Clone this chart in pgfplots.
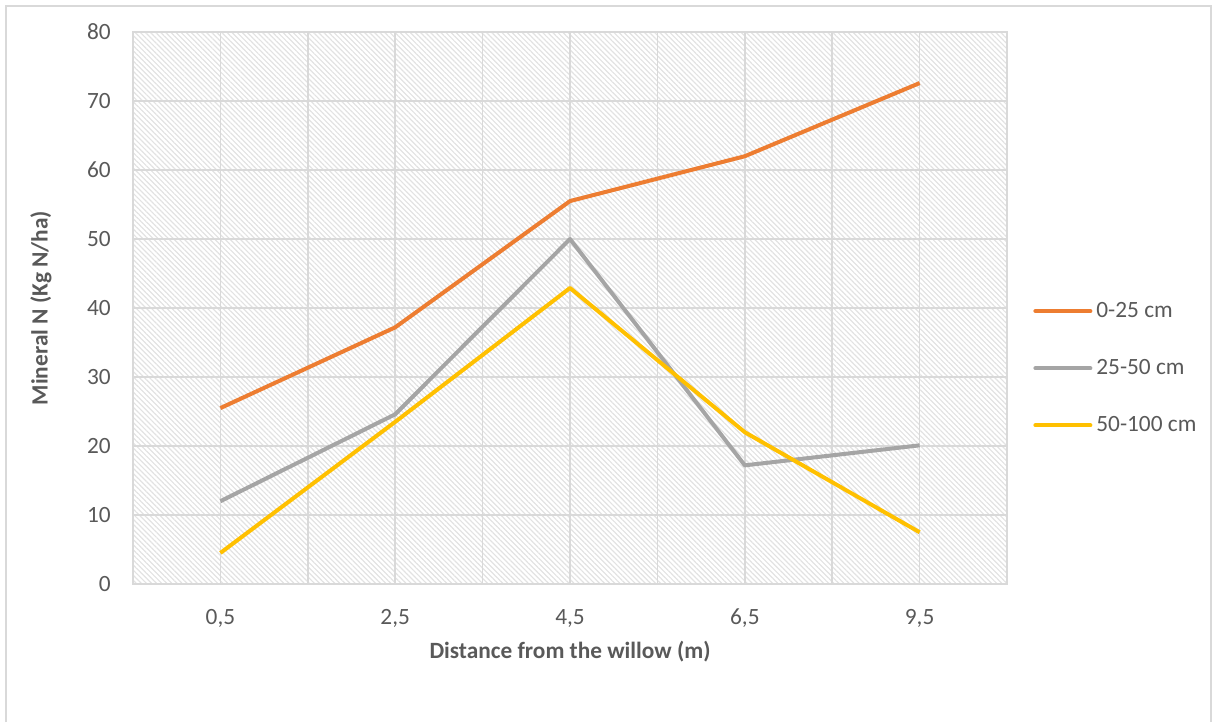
\documentclass[border=0pt]{standalone}
\usepackage{pgfplots}
\pgfplotsset{compat=1.18}
\usetikzlibrary{patterns.meta}
\usepackage{fontspec}
\setmainfont{Carlito}
\definecolor{sOrange}{HTML}{ED7D31}
\definecolor{sGray}{HTML}{A5A5A5}
\definecolor{sYellow}{HTML}{FFC000}
\definecolor{txt}{HTML}{595959}
\definecolor{gridc}{HTML}{D9D9D9}
\definecolor{hatch}{HTML}{E2E2E2}
\newcommand{\lbl}{\fontsize{11.7}{14}\selectfont}

\begin{document}
\begin{tikzpicture}
\begin{axis}[
  at={(66.5bp,-292bp)}, anchor=south west,
  scale only axis, width=437bp, height=276bp,
  xmin=0, xmax=5, ymin=0, ymax=80,
  xtick={0.5,1.5,2.5,3.5,4.5},
  xticklabels={{0,5},{2,5},{4,5},{6,5},{9,5}},
  minor xtick={1,2,3,4},
  ytick={0,10,...,80},
  grid=both,
  major grid style={draw=gridc, line width=0.75bp},
  minor grid style={draw=gridc, line width=0.75bp},
  axis line style={draw=gridc, line width=0.75bp},
  major tick length=0pt, minor tick length=0pt,
  tick style={draw=none},
  ticklabel style={font=\lbl, text=txt},
  /pgf/number format/assume math mode=true,
  yticklabel style={xshift=-7.6bp},
  xticklabel style={yshift=-9bp},
  axis background/.style={pattern={Lines[angle=-45,distance=1.8bp,line width=0.6bp]}, pattern color=hatch},
  legend style={draw=none, fill=none, at={(1.0297,0.391)}, anchor=west,
    font=\lbl, text=txt, inner sep=0pt, row sep=19.5bp,
    nodes={inner sep=0pt}},
  legend cell align=left,
  legend image code/.code={\draw[#1, line width=2bp, line cap=round] (0bp,0bp) -- (27.5bp,0bp);},
  /tikz/every odd column/.append style={column sep=2bp},
]
\addplot[sOrange, line width=2bp, line join=round] coordinates {(0.5,25.5) (1.5,37.2) (2.5,55.5) (3.5,62.0) (4.5,72.6)};
\addlegendentry{0-25 cm}
\addplot[sGray, line width=2bp, line join=round] coordinates {(0.5,12.0) (1.5,24.6) (2.5,50.0) (3.5,17.2) (4.5,20.1)};
\addlegendentry{25-50 cm}
\addplot[sYellow, line width=2bp, line join=round] coordinates {(0.5,4.5) (1.5,23.5) (2.5,42.9) (3.5,22.0) (4.5,7.5)};
\addlegendentry{50-100 cm}
\end{axis}
\begin{scope}[x=0.5bp, y=-0.5bp]
  \draw[gridc, line width=0.9bp] (6,722) -- (6,6) -- (1211,6) -- (1211,722);
  \node[font=\lbl\bfseries, text=txt, rotate=90] at (41,308) {Mineral N (Kg N/ha)};
  \node[font=\lbl\bfseries, text=txt] at (570,652) {Distance from the willow (m)};
  \pgfresetboundingbox
  \useasboundingbox (0,0) rectangle (1212,722);
\end{scope}
\end{tikzpicture}
\end{document}
